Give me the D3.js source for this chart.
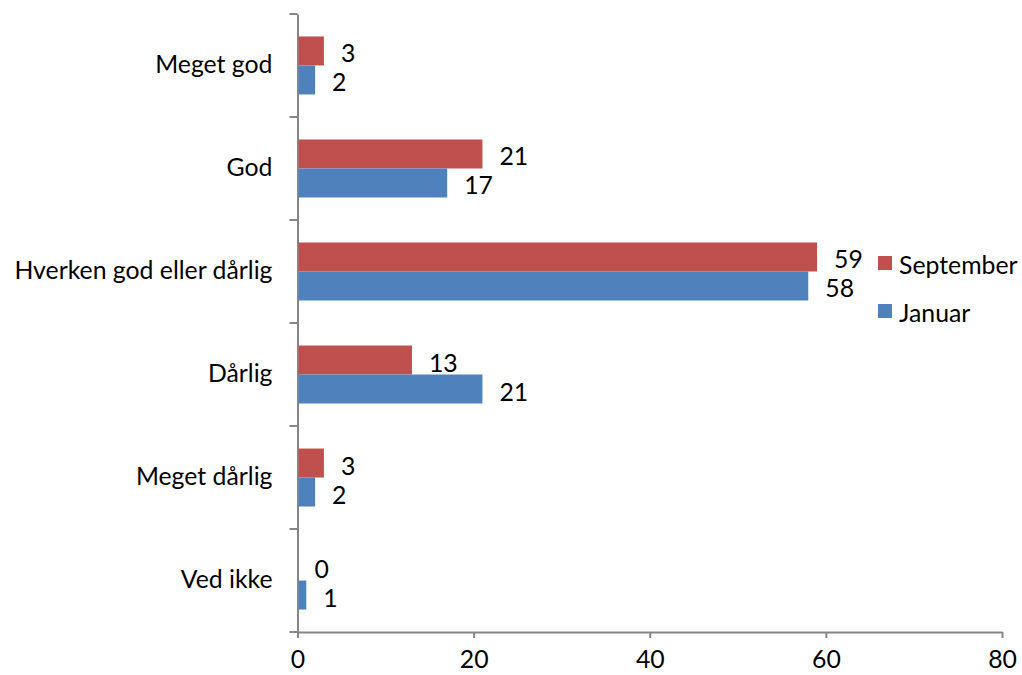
<!DOCTYPE html>
<html>
<head>
<meta charset="utf-8">
<script src="https://cdn.jsdelivr.net/npm/d3@7"></script>
<style>
  body { margin: 0; background: #fff; }
  text { font-family: Lato, "Open Sans", sans-serif; fill: #000; }
</style>
</head>
<body>
<svg id="chart" width="1022" height="675"></svg>
<script>
const categories = ["Meget god", "God", "Hverken god eller dårlig", "Dårlig", "Meget dårlig", "Ved ikke"];
const september = [3, 21, 59, 13, 3, 0];
const januar = [2, 17, 58, 21, 2, 1];
const seriesNames = ["September", "Januar"];
const xTicks = [0, 20, 40, 60, 80];

const colors = { September: "#C0504D", Januar: "#4F81BD" };
const fontSize = "24.8px";
const svg = d3.select("#chart");

const plotLeft = 297.5, plotRight = 1002, plotTop = 14, plotBottom = 632;

const x = d3.scaleLinear().domain([0, 80]).range([plotLeft, plotRight]);
const y = d3.scaleBand().domain(categories).range([plotTop, plotBottom]).paddingInner(0.437).paddingOuter(0.218);
const sub = d3.scaleBand().domain(seriesNames).range([0, y.bandwidth()]);

// axes
const xAxis = svg.append("g").attr("transform", `translate(0,${plotBottom})`)
  .call(d3.axisBottom(x).tickValues(xTicks).tickSize(6).tickSizeOuter(0).tickPadding(12));
const yAxis = svg.append("g").attr("transform", `translate(${plotLeft},0)`)
  .call(d3.axisLeft(y).tickSize(0).tickSizeOuter(0).tickPadding(25));
[xAxis, yAxis].forEach(a => {
  a.select(".domain").attr("stroke", "#868686").attr("stroke-width", 2);
  a.selectAll(".tick line").attr("stroke", "#868686").attr("stroke-width", 2);
  a.selectAll("text").style("font-size", fontSize).attr("fill", "#000");
});

// category separator ticks on y axis
const sepTicks = categories.map((c, i) => plotTop + i * (plotBottom - plotTop) / categories.length).concat([plotBottom]);
svg.append("g").selectAll("line").data(sepTicks).join("line")
  .attr("x1", plotLeft - 8).attr("x2", plotLeft).attr("y1", d => d).attr("y2", d => d)
  .attr("stroke", "#868686").attr("stroke-width", 2);

const data = [];
categories.forEach((c, i) => {
  data.push({ cat: c, series: "September", value: september[i] });
  data.push({ cat: c, series: "Januar", value: januar[i] });
});

svg.append("g").selectAll("rect").data(data).join("rect")
  .attr("x", x(0) + 1)
  .attr("y", d => y(d.cat) + sub(d.series))
  .attr("width", d => Math.max(0, x(d.value) - x(0) - 1))
  .attr("height", sub.bandwidth())
  .attr("fill", d => colors[d.series]);

svg.append("g").selectAll("text").data(data).join("text")
  .attr("x", d => x(d.value) + 17)
  .attr("y", d => y(d.cat) + sub(d.series) + sub.bandwidth() / 2 + 2)
  .attr("dominant-baseline", "central")
  .style("font-size", fontSize)
  .text(d => d.value);

// legend
const legend = svg.append("g").selectAll("g").data(seriesNames).join("g")
  .attr("transform", (d, i) => `translate(878,${256 + i * 48})`);
legend.append("rect").attr("width", 14).attr("height", 14).attr("fill", d => colors[d]);
legend.append("text").attr("x", 21).attr("y", 8).attr("dominant-baseline", "central")
  .style("font-size", fontSize).text(d => d);
</script>
</body>
</html>
